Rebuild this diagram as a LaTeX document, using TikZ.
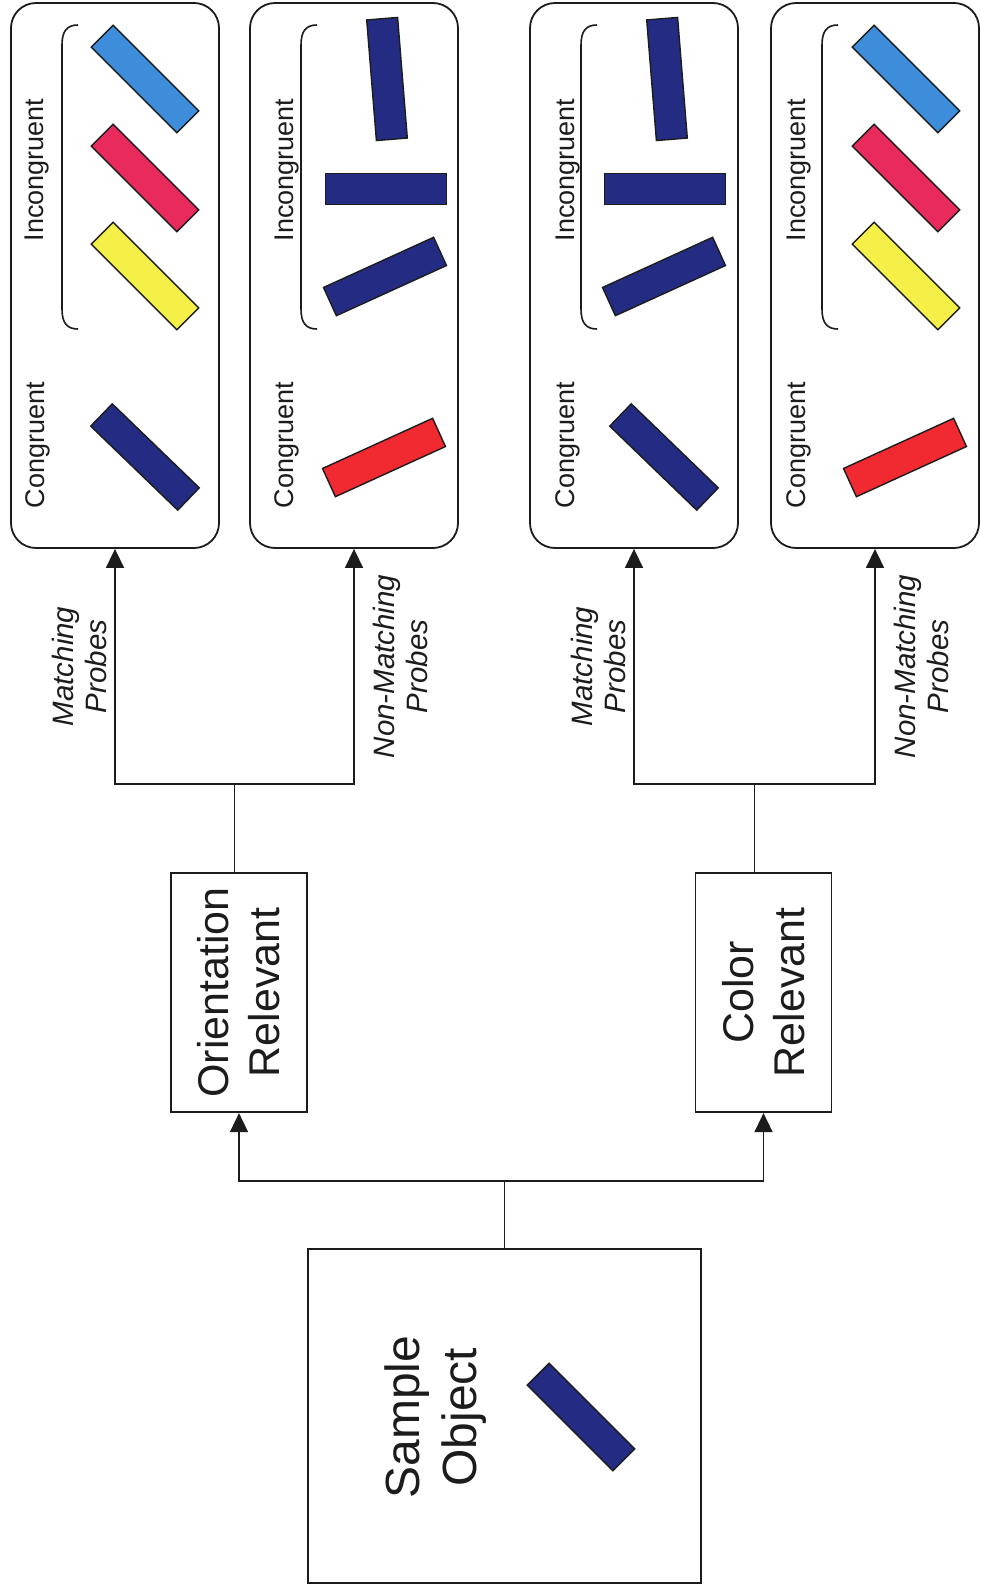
\documentclass[tikz,border=0pt]{standalone}
\usepackage{fontspec}
\setmainfont{Liberation Sans}
\usetikzlibrary{arrows.meta,calc,positioning}
\definecolor{barnavy}{HTML}{232C82}
\definecolor{barsky}{HTML}{3E8DDA}
\definecolor{barrose}{HTML}{E82A5C}
\definecolor{baryellow}{HTML}{F5F048}
\definecolor{barred}{HTML}{F02A30}
\definecolor{inkcolor}{HTML}{1C1C1C}
\tikzset{
    conn/.style={inkcolor, line width=1.6bp},
    arr/.style={conn, -{Triangle[length=19bp,width=18bp]}},
    panel/.style={draw=inkcolor, line width=1.8bp, rounded corners=25bp,
        minimum width=208bp, minimum height=545bp, inner sep=0pt},
    box/.style={draw=inkcolor, line width=1.7bp, inner sep=0pt},
    probe bar/.style={draw=inkcolor, line width=1.4bp, fill=#1,
        minimum width=121bp, minimum height=31bp, inner sep=0pt},
    cond label/.style={rotate=90, inner sep=0pt, text=inkcolor,
        font=\fontsize{27bp}{30bp}\selectfont},
    probe label/.style={rotate=90, inner sep=0pt, align=center, text=inkcolor,
        font=\fontsize{29.5bp}{33bp}\selectfont\itshape},
    bracket/.style={inkcolor, line width=1.6bp},
}

\begin{document}
\begin{tikzpicture}[x=1bp, y=-1bp]
        \useasboundingbox (0,0) rectangle (980,1585);

        \foreach \n/\x/\lx in {1/115/37.5, 2/354/287, 3/634/568, 4/875/799}{
                \pgfmathsetmacro{\bx}{\x-53}
                \node[panel] (pan\n) at (\x,275.5) {};
                \node[cond label] (con\n) at (\lx,445) {Congruent};
                \node[cond label] (inc\n) at (\lx,170) {Incongruent};
                \draw[bracket] (\bx+16,25) .. controls (\bx+5,25) and (\bx,31) .. (\bx,45)
                -- (\bx,309) .. controls (\bx,323) and (\bx+5,329) .. (\bx+16,329);
            }

        \node[probe bar=barsky, rotate=-45] (b1a) at (145,79) {};
        \node[probe bar=barrose, rotate=-45] (b1b) at (145,178) {};
        \node[probe bar=baryellow, rotate=-45] (b1c) at (145,276) {};
        \node[probe bar=barnavy, rotate=-44] (b1d) at (145,457) {};

        \node[probe bar=barnavy, rotate=94.6] (b2a) at (387,79) {};
        \node[probe bar=barnavy] (b2b) at (386,189) {};
        \node[probe bar=barnavy, rotate=24.5] (b2c) at (385,276.5) {};
        \node[probe bar=barred, rotate=24.5] (b2d) at (384,457.5) {};

        \node[probe bar=barnavy, rotate=94.6] (b3a) at (667,79) {};
        \node[probe bar=barnavy] (b3b) at (665,189) {};
        \node[probe bar=barnavy, rotate=24.5] (b3c) at (664,276.5) {};
        \node[probe bar=barnavy, rotate=-44] (b3d) at (664,457) {};

        \node[probe bar=barsky, rotate=-45] (b4a) at (906,79) {};
        \node[probe bar=barrose, rotate=-45] (b4b) at (906,178) {};
        \node[probe bar=baryellow, rotate=-45] (b4c) at (906,276) {};
        \node[probe bar=barred, rotate=24.5] (b4d) at (905,457.5) {};

        \node[box, rotate=90, minimum width=239.5bp, minimum height=136bp, align=center,
            text=inkcolor, font=\fontsize{43bp}{51bp}\selectfont]
        (orirel) at (239,992.5) {Orientation\\Relevant};
        \node[box, rotate=90, minimum width=239.5bp, minimum height=136bp, align=center,
            text=inkcolor, font=\fontsize{43bp}{51bp}\selectfont]
        (colrel) at (763.5,992.5) {Color\\Relevant};

        \node[box, minimum width=393bp, minimum height=334bp] (sample) at (504.5,1416) {};
        \node[rotate=90, inner sep=0pt, align=center, text=inkcolor,
            font=\fontsize{48bp}{57bp}\selectfont] (sampletext) at (436,1417) {Sample\\Object};
        \node[probe bar=barnavy, rotate=-45] (samplebar) at (581,1417) {};

        \coordinate (om) at ($(pan1.south)!.5!(pan2.south)$);
        \coordinate (cm) at ($(pan3.south)!.5!(pan4.south)$);

        \draw[conn] (orirel.east -| om) -- (om |- 0,784) coordinate (ofork);
        \draw[arr] (ofork) -| coordinate[pos=.75] (mp1) (pan1.south);
        \draw[arr] (ofork) -| coordinate[pos=.75] (mp2) (pan2.south);
        \node[probe label, anchor=south] (lab1) at ([xshift=-8bp]mp1) {Matching\\Probes};
        \node[probe label, anchor=north] (lab2) at ([xshift=19bp]mp2) {Non-Matching\\Probes};

        \draw[conn] (colrel.east -| cm) -- (cm |- 0,784) coordinate (cfork);
        \draw[arr] (cfork) -| coordinate[pos=.75] (mp3) (pan3.south);
        \draw[arr] (cfork) -| coordinate[pos=.75] (mp4) (pan4.south);
        \node[probe label, anchor=south] (lab3) at ([xshift=-8bp]mp3) {Matching\\Probes};
        \node[probe label, anchor=north] (lab4) at ([xshift=19bp]mp4) {Non-Matching\\Probes};

        \draw[conn] (sample.north) -- (sample.north |- 0,1181) coordinate (sfork);
        \draw[arr] (sfork) -| (orirel.west);
        \draw[arr] (sfork) -| (colrel.west);
    \end{tikzpicture}
\end{document}
